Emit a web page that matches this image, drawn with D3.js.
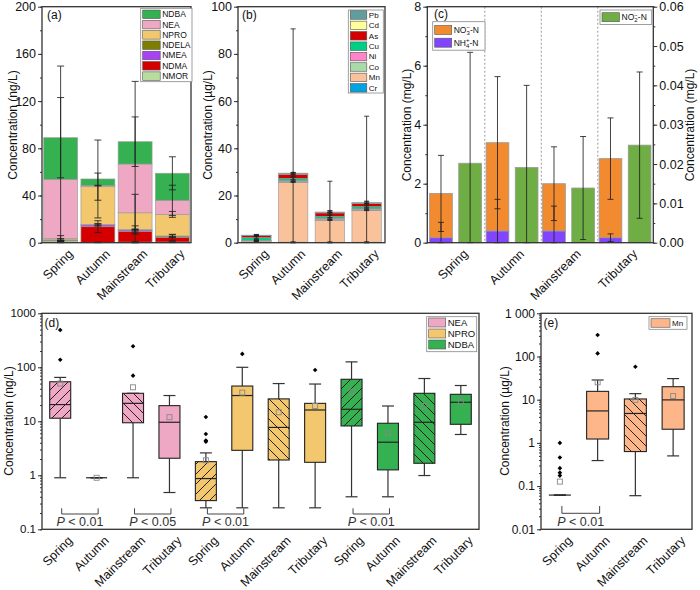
<!DOCTYPE html>
<html><head><meta charset="utf-8">
<script src="https://cdn.jsdelivr.net/npm/d3@7"></script>
<style>body{margin:0;background:#fff} svg{display:block} text{font-family:"Liberation Sans",Arial,Helvetica,sans-serif;}</style>
</head><body><svg id="c" width="700" height="590"></svg>
<script>
// ---------------- DATA ----------------
const categories = ["Spring","Autumn","Mainstream","Tributary"];

// (a) nitrosamines, stacked means (ng/L), bottom -> top
const nitroSeries = ["NMOR","NDMA","NMEA","NDELA","NPRO","NEA","NDBA"];
const aNMOR  = [1.5, 0.2, 0.5, 0.6];
const aNDMA  = [0.3, 13.4, 9.2, 4.0];
const aNMEA  = [0.1, 1.5, 1.1, 0.2];
const aNDELA = [0.6, 0.3, 0.3, 0.9];
const aNPRO  = [1.0, 32.1, 14.3, 18.3];
const aNEA   = [50.2, 0.9, 41.3, 11.9];
const aNDBA  = [35.3, 5.6, 18.9, 22.9];
const aSdNMOR  = [0.5, 0.3, 0.5, 0.5];
const aSdNDMA  = [0.3, 5.0, 1.5, 2.5];
const aSdNMEA  = [0.1, 1.0, 3.5, 0.3];
const aSdNDELA = [1.0, 0.5, 0.5, 1.0];
const aSdNPRO  = [2.5, 11.5, 15.6, 2.5];
const aSdNEA   = [96, 0.3, 70, 12.8];
const aSdNDBA  = [34, 33, 21, 14];
const aTicks = [0, 40, 80, 120, 160, 200];

// (b) metals (µg/L), bottom -> top
const metalSeries = ["Cr","Mn","Co","Ni","Cu","As","Cd","Pb"];
const bCr = [0.3, 0.2, 0.15, 0.2];
const bMn = [0.5, 25.4, 9.3, 13.4];
const bCo = [0.05, 0.1, 0.1, 0.1];
const bNi = [0.15, 0.5, 0.6, 0.6];
const bCu = [1.2, 1.0, 1.0, 1.0];
const bAs = [0.8, 1.8, 1.5, 1.3];
const bCd = [0.02, 0.05, 0.05, 0.05];
const bPb = [0.15, 0.4, 0.3, 0.4];
const bSdCr = [0.2, 0.2, 0.2, 0.2];
const bSdMn = [0.5, 65, 16.6, 40];
const bSdCo = [0.05, 0.1, 0.1, 0.1];
const bSdNi = [0.1, 0.3, 0.3, 0.3];
const bSdCu = [0.5, 0.5, 0.5, 0.5];
const bSdAs = [0.5, 0.8, 1.0, 1.0];
const bSdCd = [0.02, 0.05, 0.05, 0.05];
const bSdPb = [0.3, 0.3, 0.3, 0.3];
const bTicks = [0, 20, 40, 60, 80, 100];

// (c) nitrogen (mg/L)
const cNH4 = [0.17, 0.40, 0.40, 0.17];
const cNO3 = [1.50, 2.99, 1.60, 2.68];
const cNO2 = [0.0202, 0.0191, 0.0139, 0.0248];
const cSdNH4 = [0.52, 1.07, 0.84, 0.13];
const cSdNO3 = [1.29, 2.24, 1.25, 1.38];
const cSdNO2 = [0.0282, 0.0209, 0.0131, 0.0186];
const cTicksL = [0, 2, 4, 6, 8];
const cTicksR = [0, 0.01, 0.02, 0.03, 0.04, 0.05, 0.06];

// (d) box plots, 3 compounds x 4 categories (ng/L)
const dGroups = ["NEA","NPRO","NDBA"];
const dLow  = [0.9, 0.9, 0.9, 0.48,  0.25, 0.25, 0.25, 0.25,  0.4, 0.4, 0.99, 5.7];
const dQ1   = [11.4, 0.9, 9.4, 2.07, 0.34, 2.9, 1.92, 1.74,   8.2, 1.26, 1.67, 8.8];
const dMed  = [20.4, 0.9, 21.5, 9.6, 0.87, 30, 7.7, 16.2,     16.7, 4.1, 9.6, 22.5];
const dQ3   = [54, 0.9, 33, 19.5,    1.79, 45, 26, 21.5,      60, 9.2, 33, 31.6];
const dHigh = [65, 0.9, 33, 30,      2.6, 100, 50, 49,        126, 19.2, 62, 46];
const dMean = [50, 0.9, 42.6, 11.9,  1.9, 34, 14.7, 19.2,     35.4, 6.0, 19.2, 23.1];
const dOut  = [[490,138],[],[245,70],[], [12,5.8,4.4,4.2],[177],[],[89], [],[],[],[]];
const dTicks = [0.1, 1, 10, 100, 1000];
const dP = [[0,1,"0.01"],[2,3,"0.05"],[4,5,"0.01"],[8,9,"0.01"]];

// (e) Mn box plots (µg/L)
const eLow  = [0.062, 0.39, 0.06, 0.5];
const eQ1   = [0.062, 1.23, 0.63, 2.07];
const eMed  = [0.062, 5.5, 4.8, 9.9];
const eQ3   = [0.062, 15.6, 10.4, 20];
const eHigh = [0.062, 28.6, 13.8, 30.8];
const eMean = [0.127, 25.3, 9.9, 12.2];
const eOut  = [[1.0,0.46,0.26,0.205,0.175],[315,118],[58],[]];
const eTicks = [0.01, 0.1, 1, 10, 100, 1000];
const eP = [[0,1,"0.01"]];

// ---------------- STYLE ----------------
const nitroColors = {NMOR:"#b9dba0",NDMA:"#d40000",NMEA:"#a742f5",NDELA:"#7d7d00",NPRO:"#f2c76e",NEA:"#eea8c4",NDBA:"#35b152"};
const metalColors = {Cr:"#00a3e0",Mn:"#f9c29a",Co:"#a9dba9",Ni:"#ff85c8",Cu:"#00d084",As:"#d40000",Cd:"#ffff99",Pb:"#5f9e9e"};
const cColors = {NO3:"#f28a30",NH4:"#8144ff",NO2:"#6fae45"};
const dColors = {NEA:"#eea8c4",NPRO:"#f2c76e",NDBA:"#35b152"};
const eColor = "#fdb68a";
const AX = "#333";

const svg = d3.select("#c");
const defs = svg.append("defs");
function hatch(id, dir){
  const s = 10;
  const p = defs.append("pattern").attr("id",id).attr("patternUnits","userSpaceOnUse").attr("width",s).attr("height",s);
  const d = dir > 0
    ? `M0,${s}L${s},0M${-s/2},${s/2}L${s/2},${-s/2}M${s/2},${1.5*s}L${1.5*s},${s/2}`
    : `M0,0L${s},${s}M${-s/2},${s/2}L${s/2},${1.5*s}M${s/2},${-s/2}L${1.5*s},${s/2}`;
  p.append("path").attr("d",d).attr("stroke","#111").attr("stroke-width",0.9).attr("fill","none");
}
hatch("hF",1); hatch("hB",-1);

function styleAxis(sel, fs){
  sel.select(".domain").remove();
  sel.selectAll("line").attr("stroke",AX).attr("stroke-width",1);
  sel.selectAll("text").attr("font-size",fs).attr("fill","#111").attr("font-family",'"Liberation Sans",Arial,sans-serif');
}
function yAxis(x0, y, majors, minors, fmt, side, fs){
  const mk = side < 0 ? d3.axisLeft : d3.axisRight;
  svg.append("g").attr("transform",`translate(${x0},0)`)
    .call(mk(y).tickValues(majors).tickSize(4).tickPadding(2).tickFormat(fmt)).call(s=>styleAxis(s,fs));
  svg.append("g").attr("transform",`translate(${x0},0)`)
    .call(mk(y).tickValues(minors).tickSize(2).tickFormat("")).call(s=>styleAxis(s,fs));
}
function frame(x0,x1,y0,y1){
  svg.append("rect").attr("x",x0).attr("y",y1).attr("width",x1-x0).attr("height",y0-y1)
    .attr("fill","none").attr("stroke",AX).attr("stroke-width",1.3);
}
function xLabels(xs, labels, axisY, fs){
  labels.forEach((l,i)=>svg.append("text")
    .attr("transform",`translate(${xs[i]+13},${axisY+12}) rotate(-45)`)
    .attr("text-anchor","end").attr("font-size",fs).attr("fill","#111").text(l));
}
function yTitle(cx, cy, txt){
  svg.append("text").attr("transform",`translate(${cx},${cy}) rotate(-90)`)
    .attr("text-anchor","middle").attr("dy","0.35em").attr("font-size",12).attr("fill","#111").text(txt);
}
function panelLabel(x,y,t){ svg.append("text").attr("x",x).attr("y",y).attr("font-size",12).attr("fill","#111").text(t); }
function legend(x0,y0,w,h,items,sw,sh,step,fs,first){
  svg.append("rect").attr("x",x0).attr("y",y0).attr("width",w).attr("height",h).attr("fill","#fff").attr("stroke","#888").attr("stroke-width",0.8);
  items.forEach((it,i)=>{
    const cy = first + i*step;
    svg.append("rect").attr("x",x0+2).attr("y",cy-sh/2).attr("width",sw).attr("height",sh).attr("fill",it.c).attr("stroke","#555").attr("stroke-width",0.6);
    const t = svg.append("text").attr("x",x0+sw+4).attr("y",cy).attr("dy","0.35em").attr("font-size",fs).attr("fill","#111");
    if (it.parts) it.parts(t); else t.text(it.n);
  });
}
function errBar(x, yv, sd, y, cap, ymax){
  const lo = Math.max(0, yv - sd), hi = Math.min(ymax, yv + sd);
  const g = svg.append("g").attr("stroke","#222").attr("stroke-opacity",0.85).attr("stroke-width",1);
  g.append("line").attr("x1",x).attr("x2",x).attr("y1",y(lo)).attr("y2",y(hi));
  g.append("line").attr("x1",x-cap/2).attr("x2",x+cap/2).attr("y1",y(lo)).attr("y2",y(lo));
  g.append("line").attr("x1",x-cap/2).attr("x2",x+cap/2).attr("y1",y(hi)).attr("y2",y(hi));
}

// ---------------- (a) ----------------
function stackedPanel(X0,X1,Y0,Y1,seriesNames,vals,sds,colors,ticks,minorStep,padI,padO,cap){
  const x = d3.scaleBand().domain(categories).range([X0,X1]).paddingInner(padI).paddingOuter(padO);
  const ymax = ticks[ticks.length-1];
  const y = d3.scaleLinear().domain([0,ymax]).range([Y0,Y1]);
  const rows = categories.map((c,i)=>{ const o={cat:c}; seriesNames.forEach((s,k)=>o[s]=vals[k][i]); return o; });
  const stack = d3.stack().keys(seriesNames)(rows);
  stack.forEach(layer=>{
    svg.append("g").selectAll("rect").data(layer).join("rect")
      .attr("x",d=>x(d.data.cat)).attr("width",x.bandwidth())
      .attr("y",d=>y(d[1])).attr("height",d=>y(d[0])-y(d[1]))
      .attr("fill",colors[layer.key]).attr("stroke","#999").attr("stroke-width",0.8).attr("stroke-opacity",0.8);
  });
  stack.forEach((layer,k)=>layer.forEach((d,i)=>errBar(x(d.data.cat)+x.bandwidth()/2, d[1], sds[k][i], y, cap, ymax)));
  const minors = d3.range(0, ymax+1e-9, minorStep);
  yAxis(X0, y, ticks, minors, d3.format("d"), -1, 12.5);
  frame(X0,X1,Y0,Y1);
  xLabels(categories.map(c=>x(c)+x.bandwidth()/2), categories, Y0, 12.5);
  return {x,y};
}
stackedPanel(42,191,242.7,6.7,nitroSeries,
  [aNMOR,aNDMA,aNMEA,aNDELA,aNPRO,aNEA,aNDBA],
  [aSdNMOR,aSdNDMA,aSdNMEA,aSdNDELA,aSdNPRO,aSdNEA,aSdNDBA],
  nitroColors,aTicks,20,0.09,0.045,7);
legend(140.7,8.3,51.3,73.4,nitroSeries.slice().reverse().map(n=>({n,c:nitroColors[n]})),17.5,8.5,10.3,8.5,14.3);
panelLabel(47,19,"(a)");
yTitle(12.5,125,"Concentration (ng/L)");

// ---------------- (b) ----------------
stackedPanel(238,385,242.7,6.7,metalSeries,
  [bCr,bMn,bCo,bNi,bCu,bAs,bCd,bPb],
  [bSdCr,bSdMn,bSdCo,bSdNi,bSdCu,bSdAs,bSdCd,bSdPb],
  metalColors,bTicks,10,0.2,0.1,5);
legend(348.3,10,35,83,metalSeries.slice().reverse().map(n=>({n,c:metalColors[n]})),16.5,8.5,10.4,8,15);
panelLabel(242,19,"(b)");
yTitle(208,125,"Concentration (µg/L)");

// ---------------- (c) ----------------
(function(){
  const X0=427.3, X1=653.3, Y0=242.7, Y1=6.7;
  const x = d3.scaleBand().domain(categories).range([X0,X1]);
  const xi = d3.scaleBand().domain([0,1]).range([0,x.bandwidth()]).paddingInner(0.22).paddingOuter(0.08);
  const yL = d3.scaleLinear().domain([0,8]).range([Y0,Y1]);
  const yR = d3.scaleLinear().domain([0,0.06]).range([Y0,Y1]);
  // separators
  categories.slice(1).forEach(c=>svg.append("line").attr("x1",x(c)+1).attr("x2",x(c)+1).attr("y1",Y1).attr("y2",Y0)
    .attr("stroke","#999").attr("stroke-dasharray","2,2").attr("stroke-width",1));
  const bw = xi.bandwidth();
  categories.forEach((c,i)=>{
    const x1 = x(c)+xi(0), x2 = x(c)+xi(1);
    svg.append("rect").attr("x",x1).attr("width",bw).attr("y",yL(cNH4[i])).attr("height",Y0-yL(cNH4[i]))
      .attr("fill",cColors.NH4).attr("stroke","#999").attr("stroke-width",0.8);
    svg.append("rect").attr("x",x1).attr("width",bw).attr("y",yL(cNH4[i]+cNO3[i])).attr("height",yL(cNH4[i])-yL(cNH4[i]+cNO3[i]))
      .attr("fill",cColors.NO3).attr("stroke","#999").attr("stroke-width",0.8);
    svg.append("rect").attr("x",x2).attr("width",bw).attr("y",yR(cNO2[i])).attr("height",Y0-yR(cNO2[i]))
      .attr("fill",cColors.NO2).attr("stroke","#999").attr("stroke-width",0.8);
  });
  categories.forEach((c,i)=>{
    const x1 = x(c)+xi(0)+bw/2, x2 = x(c)+xi(1)+bw/2;
    errBar(x1, cNH4[i]+cNO3[i], cSdNO3[i], yL, 6, 8);
    errBar(x1, cNH4[i], cSdNH4[i], yL, 6, 8);
    errBar(x2, cNO2[i], cSdNO2[i], yR, 6, 0.06);
  });
  yAxis(X0, yL, cTicksL, d3.range(0,8.01,1), d3.format("d"), -1, 12.5);
  yAxis(X1, yR, cTicksR, d3.range(0,0.0601,0.005), d3.format(".2f"), 1, 12.5);
  frame(X0,X1,Y0,Y1);
  xLabels(categories.map(c=>x(c)+x.bandwidth()/2), categories, Y0, 12.5);
  const sub = (t,base,s,p)=>{ t.text(base); t.append("tspan").attr("font-size",6).attr("dy",2).text(s);
    t.append("tspan").attr("font-size",6).attr("dy",-5.5).attr("dx",-3.3).text(p); t.append("tspan").attr("dy",3.5).text("-N"); };
  legend(432.7,21.7,52.3,28.5,[{c:cColors.NO3,parts:t=>sub(t,"NO","3","−")},{c:cColors.NH4,parts:t=>sub(t,"NH","4","+")}],17,9,12.7,8.5,30);
  legend(600,10,51.7,14.5,[{c:cColors.NO2,parts:t=>sub(t,"NO","2","−")}],17.5,9,12,8.5,17.2);
  panelLabel(434,18,"(c)");
  yTitle(406.5,125,"Concentration (mg/L)");
  yTitle(690,125,"Concentration (mg/L)");
})();

// ---------------- box helpers ----------------
function diamond(x,y,r){ return `M${x},${y-r}L${x+r},${y}L${x},${y+r}L${x-r},${y}Z`; }
function drawBox(cx, st, y, fill, hatchId, bw, cw){
  const g = svg.append("g");
  const wl = "#333";
  g.append("line").attr("x1",cx).attr("x2",cx).attr("y1",y(st.low)).attr("y2",y(st.q1)).attr("stroke",wl).attr("stroke-width",1.2);
  g.append("line").attr("x1",cx).attr("x2",cx).attr("y1",y(st.q3)).attr("y2",y(st.high)).attr("stroke",wl).attr("stroke-width",1.2);
  [st.low, st.high].forEach(v=>g.append("line").attr("x1",cx-cw/2).attr("x2",cx+cw/2).attr("y1",y(v)).attr("y2",y(v)).attr("stroke",wl).attr("stroke-width",1.2));
  const h = y(st.q1)-y(st.q3);
  if (h > 0.5){
    g.append("rect").attr("x",cx-bw/2).attr("y",y(st.q3)).attr("width",bw).attr("height",h).attr("fill",fill);
    if (hatchId) g.append("rect").attr("x",cx-bw/2).attr("y",y(st.q3)).attr("width",bw).attr("height",h).attr("fill",`url(#${hatchId})`);
    g.append("rect").attr("x",cx-bw/2).attr("y",y(st.q3)).attr("width",bw).attr("height",h).attr("fill","none").attr("stroke","#222").attr("stroke-width",1.1);
  }
  g.append("line").attr("x1",cx-bw/2).attr("x2",cx+bw/2).attr("y1",y(st.med)).attr("y2",y(st.med)).attr("stroke","#222").attr("stroke-width",1.2);
  g.append("rect").attr("x",cx-2.5).attr("y",y(st.mean)-2.5).attr("width",5).attr("height",5).attr("fill","none").attr("stroke","#888").attr("stroke-width",0.9);
  st.out.forEach(v=>g.append("path").attr("d",diamond(cx,y(v),2.3)).attr("fill","#000"));
}
function pBracket(x1,x2,yTop,yBot,txt,tx,ty){
  svg.append("path").attr("d",`M${x1},${yTop}V${yBot}H${x2}V${yTop}`).attr("fill","none").attr("stroke","#444").attr("stroke-width",1);
  const t = svg.append("text").attr("x",tx).attr("y",ty).attr("text-anchor","middle").attr("font-size",12.5).attr("fill","#333");
  t.append("tspan").attr("font-style","italic").text("P");
  t.append("tspan").text(" < "+txt);
}
const hatchFor = i => i===0 ? "hF" : (i===2 ? "hB" : null);

// ---------------- (d) ----------------
(function(){
  const X0=42, X1=479, Y0=529.3, Y1=313.3;
  const labels = d3.range(12).map(i=>categories[i%4]);
  const x = d3.scaleBand().domain(d3.range(12)).range([X0,X1]);
  const y = d3.scaleLog().domain([0.1,1000]).range([Y0,Y1]);
  const bw = 21, cw = 12;
  d3.range(12).forEach(i=>{
    const grp = dGroups[Math.floor(i/4)];
    drawBox(x(i)+x.bandwidth()/2, {low:dLow[i],q1:dQ1[i],med:dMed[i],q3:dQ3[i],high:dHigh[i],mean:dMean[i],out:dOut[i]},
      y, dColors[grp], hatchFor(i%4), bw, cw);
  });
  dP.forEach(([a,b,s])=>{
    const xa = x(a)+x.bandwidth()/2+1.5, xb = x(b)+x.bandwidth()/2+1.5;
    pBracket(xa, xb, 508.3, 514, s, (xa+xb)/2, 526);
  });
  yAxis(X0, y, dTicks, y.ticks(), d=>String(d), -1, 11.5);
  frame(X0,X1,Y0,Y1);
  xLabels(d3.range(12).map(i=>x(i)+x.bandwidth()/2), labels, Y0, 12.5);
  legend(426.7,316.7,50,35,dGroups.map(n=>({n,c:dColors[n]})),17,9,11,9.5,322.5);
  panelLabel(44.5,327,"(d)");
  yTitle(9,421,"Concentration (ng/L)");
})();

// ---------------- (e) ----------------
(function(){
  const X0=541, X1=692, Y0=529.3, Y1=313.3;
  const x = d3.scaleBand().domain(categories).range([X0,X1]);
  const y = d3.scaleLog().domain([0.01,1000]).range([Y0,Y1]);
  categories.forEach((c,i)=>{
    drawBox(x(c)+x.bandwidth()/2, {low:eLow[i],q1:eQ1[i],med:eMed[i],q3:eQ3[i],high:eHigh[i],mean:eMean[i],out:eOut[i]},
      y, eColor, i===2 ? "hB" : null, 22, 12);
  });
  eP.forEach(([a,b,s])=>{
    const xa = x(categories[a])+x.bandwidth()/2+2, xb = x(categories[b])+x.bandwidth()/2+2;
    pBracket(xa, xb, 506, 513.3, s, (xa+xb)/2, 526);
  });
  yAxis(X0, y, eTicks, y.ticks(), d=> d===1000 ? "1 000" : String(d), -1, 12);
  frame(X0,X1,Y0,Y1);
  xLabels(categories.map(c=>x(c)+x.bandwidth()/2), categories, Y0, 12.5);
  legend(649,316.7,38,12.6,[{n:"Mn",c:eColor}],19,8.5,10,8,323);
  panelLabel(543.5,327,"(e)");
  yTitle(505,421,"Concentration (µg/L)");
})();
</script></body></html>
